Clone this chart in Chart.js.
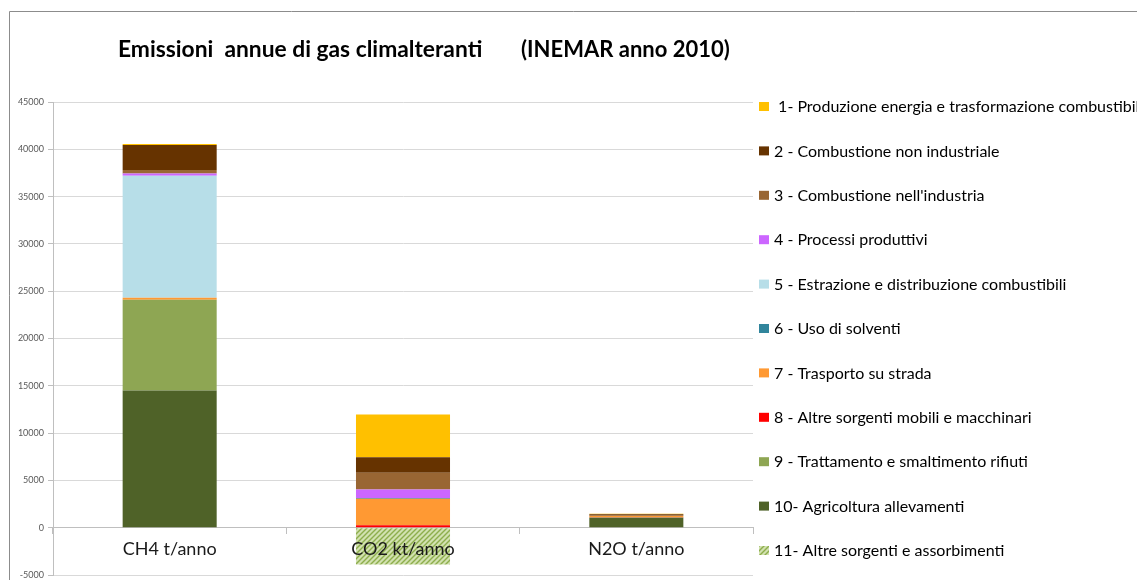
<!DOCTYPE html>
<html>
<head>
<meta charset="utf-8">
<script src="https://cdn.jsdelivr.net/npm/chart.js@4"></script>
<style>
html,body{margin:0;padding:0;background:#fff;}
#wrap{width:1137px;height:580px;position:relative;}
</style>
</head>
<body>
<div id="wrap"><canvas id="c" width="1137" height="580"></canvas></div>
<script>
// ---- data ----
const categories = ['CH4 t/anno', 'CO2 kt/anno', 'N2O t/anno'];
const yTicks = [-5000, 0, 5000, 10000, 15000, 20000, 25000, 30000, 35000, 40000, 45000];
const seriesLabels = [
  ' 1- Produzione energia e trasformazione combustibili',
  '2 - Combustione non industriale',
  "3 - Combustione nell'industria",
  '4 - Processi produttivi',
  '5 - Estrazione e distribuzione combustibili',
  '6 - Uso di solventi',
  '7 - Trasporto su strada',
  '8 - Altre sorgenti mobili e macchinari',
  '9 - Trattamento e smaltimento rifiuti',
  '10- Agricoltura allevamenti',
  '11- Altre sorgenti e assorbimenti'
];
const s1  = [100,   4520, 70];
const s2  = [2650,  1650, 100];
const s3  = [350,   1770, 80];
const s4  = [250,   880,  0];
const s5  = [12900, 0,    0];
const s6  = [0,     100,  0];
const s7  = [200,   2800, 120];
const s8  = [0,     250,  30];
const s9  = [9600,  0,    30];
const s10 = [14500, 0,    1050];
const s11 = [0,     -3900, 0];
const seriesValues = [s1, s2, s3, s4, s5, s6, s7, s8, s9, s10, s11];

// ---- styles ----
const seriesColors = ['#FFC000', '#663300', '#996633', '#CC66FF', '#B7DEE8', '#31859C',
                      '#FF9933', '#FF0000', '#8EA653', '#4F6228', null];

function makeHatch() {
  const c = document.createElement('canvas');
  c.width = 5; c.height = 5;
  const g = c.getContext('2d');
  g.fillStyle = '#D2E1B0';
  g.fillRect(0, 0, 5, 5);
  g.strokeStyle = '#8DAE4C';
  g.lineWidth = 1.4;
  g.beginPath();
  g.moveTo(-1, 6); g.lineTo(6, -1);
  g.moveTo(-1, 1); g.lineTo(1, -1);
  g.moveTo(4, 6); g.lineTo(6, 4);
  g.stroke();
  return document.getElementById('c').getContext('2d').createPattern(c, 'repeat');
}
const hatch = makeHatch();
const colorOf = i => seriesColors[i] || hatch;

// stacking: series 10 at bottom ... series 1 on top; series 11 negative
const stackOrder = [9, 8, 7, 6, 5, 4, 3, 2, 1, 0, 10];
const datasets = stackOrder.map(i => ({
  label: seriesLabels[i],
  data: seriesValues[i],
  backgroundColor: colorOf(i),
  borderWidth: 0,
  _idx: i
}));

const framePlugin = {
  id: 'frame',
  beforeDraw(chart) {
    const ctx = chart.ctx;
    ctx.save();
    ctx.fillStyle = '#fff';
    ctx.fillRect(0, 0, chart.width, chart.height);
    ctx.strokeStyle = '#8C8C8C';
    ctx.lineWidth = 1;
    ctx.beginPath();
    ctx.moveTo(9.5, 580);
    ctx.lineTo(9.5, 11.5);
    ctx.lineTo(1137, 11.5);
    ctx.stroke();
    ctx.restore();
  },
  afterDraw(chart) {
    const ctx = chart.ctx;
    ctx.save();
    // title
    ctx.fillStyle = '#000';
    ctx.textBaseline = 'middle';
    ctx.textAlign = 'left';
    ctx.font = 'bold 22.8px Lato';
    ctx.fillText('Emissioni  annue di gas climalteranti', 118, 50);
    ctx.font = 'bold 22px Lato';
    ctx.fillText('(INEMAR anno 2010)', 521, 50);
    // legend
    ctx.font = '16px Lato';
    for (let k = 0; k < seriesLabels.length; k++) {
      const y = 107 + k * 44.4;
      const ds = chart.data.datasets.find(d => d._idx === k);
      ctx.fillStyle = ds.backgroundColor;
      ctx.fillRect(759, y - 5, 10, 9);
      ctx.fillStyle = '#000';
      ctx.fillText(ds.label, 774, y);
    }
    ctx.restore();
  }
};

new Chart(document.getElementById('c'), {
  type: 'bar',
  data: { labels: categories, datasets },
  plugins: [framePlugin],
  options: {
    responsive: false,
    animation: false,
    layout: { padding: { left: 0, top: 102, right: 384, bottom: 5 } },
    plugins: { legend: { display: false }, tooltip: { enabled: false }, title: { display: false } },
    datasets: { bar: { categoryPercentage: 0.403, barPercentage: 1 } },
    scales: {
      x: {
        stacked: true,
        position: { y: 0 },
        offset: true,
        afterFit(s) { s.paddingTop = 0; s.paddingBottom = 0; s.paddingLeft = 0; s.paddingRight = 0; },
        grid: { display: true, drawOnChartArea: false, offset: true, tickLength: 6, color: '#BFBFBF' },
        border: { color: '#BFBFBF' },
        ticks: { z: 1, autoSkip: false, maxRotation: 0, font: { family: 'Lato', size: 18 }, color: '#1a1a1a', padding: 5 }
      },
      y: {
        stacked: true,
        min: yTicks[0],
        max: yTicks[yTicks.length - 1],
        afterBuildTicks(s) { s.ticks = yTicks.map(v => ({ value: v })); },
        afterFit(s) { s.width = 53; s.paddingTop = 0; s.paddingBottom = 0; },
        grid: { color: '#D9D9D9', tickLength: 5, tickColor: '#BFBFBF' },
        border: { color: '#BFBFBF' },
        ticks: { font: { family: 'Lato', size: 9 }, color: '#595959', padding: 4, callback: v => String(v) }
      }
    }
  }
});
</script>
</body>
</html>
